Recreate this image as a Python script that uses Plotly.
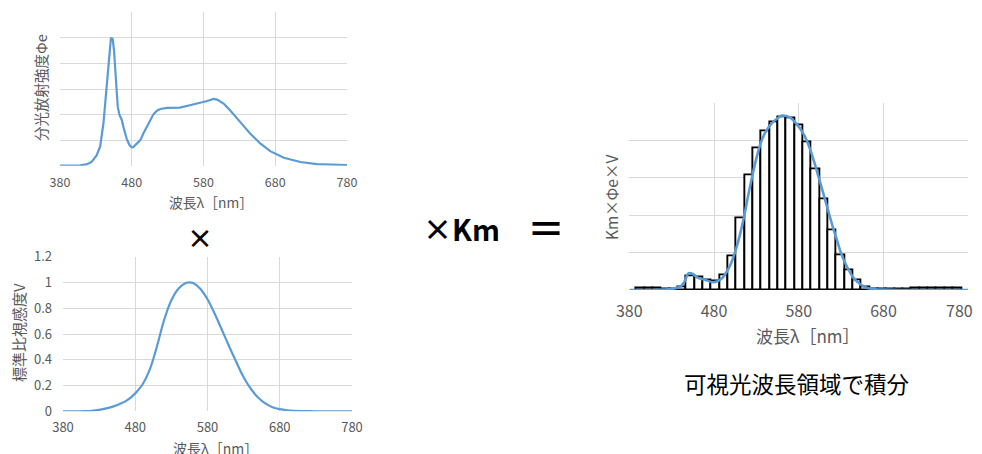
import plotly.graph_objects as go

# ---------------- data ----------------
# Spectral radiant intensity (relative), top-left chart
phi_wl = [380, 390, 400, 408, 417, 424, 431, 436, 440.5, 445, 449, 451, 453.5, 455.3, 458,
          460.5, 463, 466, 469, 473, 477, 480, 482, 487, 492, 496, 501, 506, 510, 515, 520,
          529, 547, 561, 575, 585, 594, 599, 608, 617, 631, 645, 659, 673, 692, 715, 738,
          761, 780]
phi_val = [0.0, 0.0, 0.0, 0.003, 0.01, 0.03, 0.08, 0.15, 0.33, 0.64, 0.93, 1.0, 0.99, 0.90,
           0.67, 0.46, 0.395, 0.36, 0.29, 0.21, 0.16, 0.143, 0.145, 0.17, 0.2, 0.25, 0.30,
           0.36, 0.40, 0.43, 0.444, 0.452, 0.455, 0.473, 0.49, 0.506, 0.522, 0.517, 0.486,
           0.434, 0.343, 0.252, 0.174, 0.114, 0.062, 0.029, 0.013, 0.008, 0.005]

# Standard relative luminous efficiency V (bottom-left chart)
v_wl = [380, 390, 400, 410, 420, 430, 440, 450, 460, 470, 480, 490, 500, 510, 520, 530, 540,
        550, 555, 560, 570, 580, 590, 600, 610, 620, 630, 640, 650, 660, 670, 680, 690, 700,
        710, 720, 730, 740, 750, 760, 770, 780]
v_val = [0.00004, 0.00012, 0.0004, 0.0012, 0.004, 0.0116, 0.023, 0.038, 0.06, 0.091, 0.139,
         0.208, 0.323, 0.503, 0.710, 0.862, 0.954, 0.995, 1.0, 0.995, 0.952, 0.870, 0.757,
         0.631, 0.503, 0.381, 0.265, 0.175, 0.107, 0.061, 0.032, 0.017, 0.0082, 0.0041,
         0.0021, 0.00105, 0.00052, 0.00025, 0.00012, 0.00006, 0.00003, 0.000015]

# Km x Phi_e x V (right chart), curve
p_wl = [380, 400, 420, 430, 440, 445, 450, 455, 460, 470, 480, 490, 495, 500, 505, 510, 515,
        520, 525, 530, 535, 540, 545, 550, 555, 560, 565, 570, 575, 580, 585, 590, 595, 600,
        605, 610, 615, 620, 625, 630, 635, 640, 645, 650, 655, 660, 670, 680, 700, 720, 780]
p_val = [0.0, 0.0, 0.001, 0.003, 0.009, 0.022, 0.045, 0.043, 0.034, 0.027, 0.021, 0.033,
         0.049, 0.071, 0.103, 0.143, 0.192, 0.25, 0.304, 0.353, 0.393, 0.42, 0.4375, 0.451,
         0.46, 0.467, 0.466, 0.4615, 0.451, 0.4375, 0.42, 0.397, 0.366, 0.329, 0.29, 0.25,
         0.21, 0.17, 0.134, 0.098, 0.071, 0.049, 0.031, 0.02, 0.012, 0.006, 0.002, 0.001,
         0.0, 0.0, 0.0]

# 10 nm integration bins (right chart)
bin_wl = [390, 400, 410, 420, 430, 440, 450, 460, 470, 480, 490, 500, 510, 520, 530, 540,
          550, 560, 570, 580, 590, 600, 610, 620, 630, 640, 650, 660, 670, 680, 690, 700,
          710, 720, 730, 740, 750, 760, 770]
bin_val = [0.004, 0.004, 0.004, 0.003, 0.003, 0.008, 0.0375, 0.033, 0.026, 0.024, 0.039,
           0.091, 0.192, 0.307, 0.379, 0.426, 0.449, 0.4625, 0.46, 0.44, 0.396, 0.324, 0.243,
           0.161, 0.094, 0.052, 0.025, 0.007, 0.003, 0.002, 0.002, 0.002, 0.002, 0.004,
           0.004, 0.004, 0.004, 0.004, 0.004]

x_ticks = [380, 480, 580, 680, 780]
x_tick_labels = ["380", "480", "580", "680", "780"]

# ---------------- styles ----------------
OFF = 8                     # default page body margin
W, H = 982 - OFF, 454 - OFF
BLUE = "#5b9bd5"
GRID = "#d9d9d9"
TXT = "#595959"
JP = "Noto Sans CJK JP"


def px(x):
    return (x - OFF) / W


def py(y):
    return 1 - (y - OFF) / H


# last label of the right chart is nudged left (padding) so it stays inside the view
right_labels = x_tick_labels[:-1] + [x_tick_labels[-1] + "\u2007\u2007"]

fig = go.Figure()

fig.add_trace(go.Scatter(x=phi_wl, y=phi_val, mode="lines", line=dict(color=BLUE, width=2.2),
                         xaxis="x", yaxis="y", showlegend=False))
fig.add_trace(go.Scatter(x=v_wl, y=v_val, mode="lines", line=dict(color=BLUE, width=2.2, shape="spline"),
                         xaxis="x2", yaxis="y2", showlegend=False))
fig.add_trace(go.Bar(x=bin_wl, y=bin_val, width=10, marker=dict(color="white", line=dict(color="black", width=1.9)),
                     xaxis="x3", yaxis="y3", showlegend=False))
fig.add_trace(go.Scatter(x=p_wl, y=p_val, mode="lines", line=dict(color=BLUE, width=2.6, shape="spline"),
                         xaxis="x4", yaxis="y3", showlegend=False))

common_x = dict(tickmode="array", tickvals=x_ticks, ticktext=x_tick_labels, showgrid=True,
                gridcolor=GRID, gridwidth=1, zeroline=False, showline=False, ticks="",
                automargin=False, ticklabeloverflow="allow", tickfont=dict(family=JP, color=TXT))
common_y = dict(showgrid=True, gridcolor=GRID, gridwidth=1, zeroline=False, showline=False, ticks="",
                automargin=False, tickfont=dict(family=JP, color=TXT))

fig.update_layout(
    template="none",
    width=W, height=H, margin=dict(l=0, r=0, t=0, b=0, autoexpand=False),
    paper_bgcolor="white", plot_bgcolor="white", bargap=0,
    xaxis=dict(common_x, domain=[px(60), px(347)], range=[380, 780], anchor="y",
               ticklabelstandoff=8, tickfont=dict(family=JP, color=TXT, size=12.5)),
    yaxis=dict(common_y, domain=[py(165.7), py(12.3)], range=[0, 1.2], dtick=0.2, anchor="x",
               showticklabels=False),
    xaxis2=dict(common_x, domain=[px(63), px(352)], range=[380, 780], anchor="y2",
                ticklabelstandoff=7, tickfont=dict(family=JP, color=TXT, size=13)),
    yaxis2=dict(common_y, domain=[py(411.3), py(256.7)], range=[0, 1.2], dtick=0.2, anchor="x2",
                ticklabelstandoff=10, tickfont=dict(family=JP, color=TXT, size=13), tickformat="~g"),
    xaxis3=dict(domain=[px(629.3), px(968.3)], range=[376.3, 782.8], anchor="y3", automargin=False,
                showgrid=False, showticklabels=False, zeroline=False, showline=False, ticks=""),
    xaxis4=dict(common_x, overlaying="x3", range=[380, 780], anchor="y3", ticktext=right_labels,
                ticklabelstandoff=10, tickfont=dict(family=JP, color=TXT, size=16)),
    yaxis3=dict(common_y, domain=[py(290), py(103.3)], range=[0, 0.5], dtick=0.1, anchor="x3",
                showticklabels=False),
)

ann = []
# axis titles
ann.append(dict(text="波長λ［nm］", x=px(211), y=py(202), font=dict(family=JP, size=13.8, color=TXT)))
ann.append(dict(text="分光放射強度Φe", x=px(41), y=py(88), textangle=-90, font=dict(family=JP, size=14.5, color=TXT)))
ann.append(dict(text="波長λ［nm］", x=px(215), y=py(448), font=dict(family=JP, size=14, color=TXT)))
ann.append(dict(text="標準比視感度V", x=px(18), y=py(333), textangle=-90, font=dict(family=JP, size=15, color=TXT)))
ann.append(dict(text="波長λ［nm］", x=px(808), y=py(335), font=dict(family=JP, size=17, color=TXT)))
ann.append(dict(text="Km×Φe×V", x=px(611), y=py(198), textangle=-90, font=dict(family=JP, size=15.5, color=TXT)))
# operators and note
ann.append(dict(text="<b>×</b>", x=px(200), y=py(236), font=dict(family=JP, size=26, color="black")))
ann.append(dict(text="<b>×Km</b>", x=px(461), y=py(228), font=dict(family=JP, size=29, color="black")))
ann.append(dict(text="<b>＝</b>", x=px(546), y=py(226), font=dict(family=JP, size=38, color="black")))
ann.append(dict(text="可視光波長領域で積分", x=px(796), y=py(383), font=dict(family=JP, size=22.5, color="black")))
for a in ann:
    a.update(xref="paper", yref="paper", showarrow=False, xanchor="center", yanchor="middle")
fig.update_layout(annotations=ann)

fig.write_html("out.html")
